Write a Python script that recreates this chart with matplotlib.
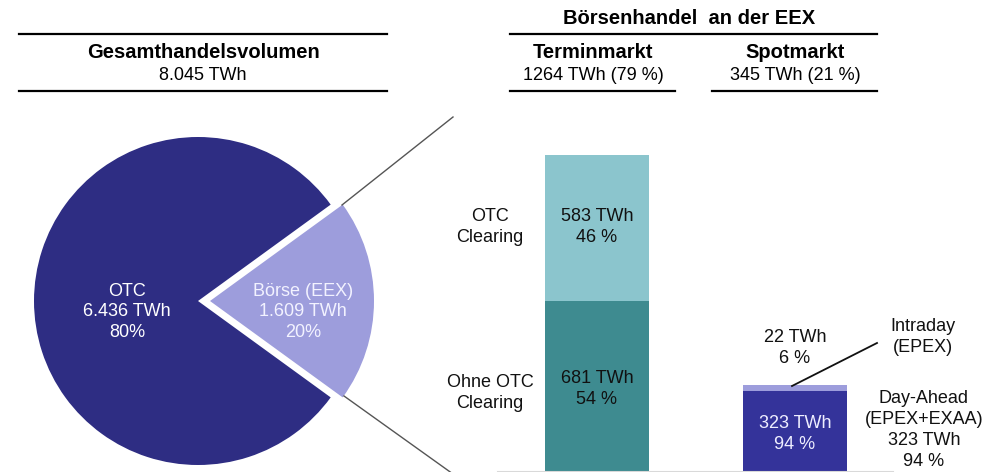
import matplotlib
matplotlib.use("Agg")
import matplotlib.pyplot as plt

plt.rcParams['font.family'] = ['Liberation Sans', 'DejaVu Sans']

# pie: total trading volume
pie_labels = ['OTC', 'Börse (EEX)']
pie_values = [6436, 1609]
pie_texts = ['OTC\n6.436 TWh\n80%', 'Börse (EEX)\n1.609 TWh\n20%']

# exchange bars (TWh)
bar_names = ['Terminmarkt', 'Spotmarkt']
bottom_vals = [681, 323]   # Ohne OTC Clearing / Day-Ahead
top_vals = [583, 22]       # OTC Clearing / Intraday
bottom_pct = ['54 %', '94 %']
top_pct = ['46 %', '6 %']

W, H = 984, 472
fig = plt.figure(figsize=(W / 100, H / 100), dpi=100)

# bar axes, baseline at the bottom edge of the figure
axb = fig.add_axes([440 / W, 0, 544 / W, 1])
axb.set_xlim(-0.793, 1.955)
axb.set_ylim(0, 1882)
axb.axis('off')
xs = [0, 1]
bw = 0.525
bot_colors = ['#3e8b90', '#34339a']
top_colors = ['#8bc5cd', '#9d9ddc']
axb.bar(xs, bottom_vals, width=bw, color=bot_colors)
axb.bar(xs, top_vals, width=bw, bottom=bottom_vals, color=top_colors)
axb.axhline(0, xmin=0.107, xmax=0.833, color='#d9d9d9', lw=1.5)

fs = 13
ls = 1.3
# Terminmarkt labels
axb.text(0, bottom_vals[0] / 2 - 10, f'{bottom_vals[0]} TWh\n{bottom_pct[0]}', ha='center', va='center',
         fontsize=fs, linespacing=ls, color='#111111')
axb.text(0, bottom_vals[0] + top_vals[0] / 2 + 5, f'{top_vals[0]} TWh\n{top_pct[0]}', ha='center', va='center',
         fontsize=fs, linespacing=ls, color='#111111')
axb.text(-0.54, bottom_vals[0] / 2 - 25, 'Ohne OTC\nClearing', ha='center', va='center',
         fontsize=fs, linespacing=ls, color='#111111')
axb.text(-0.54, bottom_vals[0] + top_vals[0] / 2 + 5, 'OTC\nClearing', ha='center', va='center',
         fontsize=fs, linespacing=ls, color='#111111')
# Spotmarkt labels
axb.text(1, bottom_vals[1] / 2 - 10, f'{bottom_vals[1]} TWh\n{bottom_pct[1]}', ha='center', va='center',
         fontsize=fs, linespacing=ls, color='#eeeeff')
spot_total = bottom_vals[1] + top_vals[1]
axb.text(1, spot_total + 150, f'{top_vals[1]} TWh\n{top_pct[1]}', ha='center', va='center',
         fontsize=fs, linespacing=ls, color='#111111')

# overlay axes in pixel coordinates
ax = fig.add_axes([0, 0, 1, 1])
ax.patch.set_alpha(0)
cx, cy, r = 198, 301, 164
ax.pie(pie_values, colors=['#2e2d83', '#9d9ddc'], startangle=36, counterclock=True,
       center=(cx, cy), radius=r, explode=[0, 12])
ax.set_xlim(0, W)
ax.set_ylim(H, 0)
ax.set_aspect('equal', adjustable='box')
ax.axis('off')

ax.text(127, 312, pie_texts[0], ha='center', va='center', fontsize=fs, linespacing=ls, color='white')
ax.text(303, 312, pie_texts[1], ha='center', va='center', fontsize=fs, linespacing=ls, color='#f2f2ff')

# connector lines from exchange wedge to the bars
ax.plot([342, 453], [205, 117], color='#555555', lw=1)
ax.plot([344, 453], [396, 474], color='#555555', lw=1)
# intraday pointer
ax.plot([792, 877], [386, 343], color='#111111', lw=1.3)
ax.text(923, 337, 'Intraday\n(EPEX)', ha='center', va='center', fontsize=fs, linespacing=ls, color='#111111')
ax.text(924, 430, 'Day-Ahead\n(EPEX+EXAA)\n323 TWh\n94 %', ha='center', va='center', fontsize=fs,
        linespacing=ls, color='#111111')

# headers
hw = 1.6
hfs = 14.5
ax.plot([19, 387], [34, 34], color='black', lw=hw)
ax.plot([19, 387], [91, 91], color='black', lw=hw)
ax.text(203, 53, 'Gesamthandelsvolumen', ha='center', va='center', fontsize=hfs, fontweight='bold')
ax.text(203, 76, '8.045 TWh', ha='center', va='center', fontsize=fs)

ax.text(689, 18, 'Börsenhandel  an der EEX', ha='center', va='center', fontsize=hfs, fontweight='bold')
ax.plot([510, 877], [34, 34], color='black', lw=hw)
ax.text(593, 53, bar_names[0], ha='center', va='center', fontsize=hfs, fontweight='bold')
ax.text(593, 76, '1264 TWh (79 %)', ha='center', va='center', fontsize=fs)
ax.plot([510, 675], [91, 91], color='black', lw=hw)
ax.text(795, 53, bar_names[1], ha='center', va='center', fontsize=hfs, fontweight='bold')
ax.text(795, 76, '345 TWh (21 %)', ha='center', va='center', fontsize=fs)
ax.plot([712, 877], [91, 91], color='black', lw=hw)

fig.savefig('out.png', dpi=100)
